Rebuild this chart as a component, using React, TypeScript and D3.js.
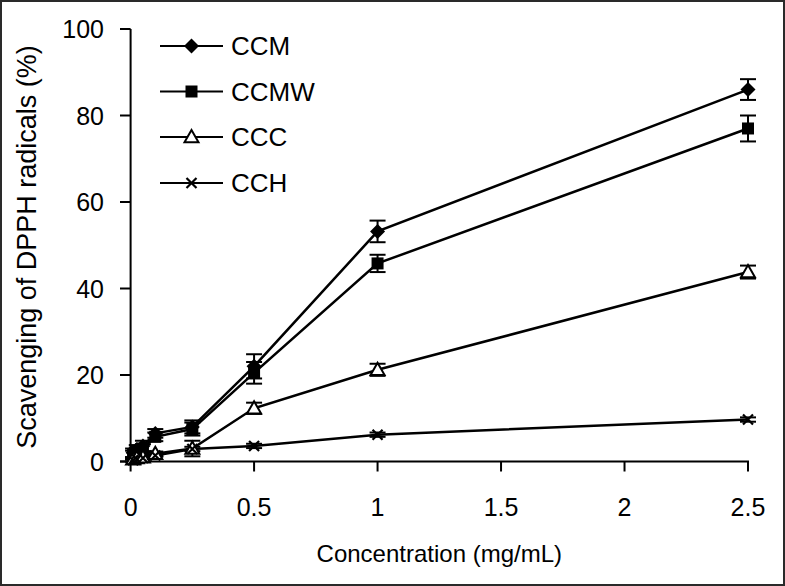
import React from "react";
import * as d3 from "d3";

const concentrations = [0.01, 0.025, 0.05, 0.1, 0.25, 0.5, 1, 2.5];
const ccm = [2.0, 2.8, 3.6, 6.5, 8.0, 22.0, 53.2, 86.0];
const ccmErr = [1, 1, 1.2, 1, 1.5, 2.8, 2.5, 2.4];
const ccmw = [1.5, 2.2, 3.0, 5.7, 7.5, 20.5, 45.8, 77.0];
const ccmwErr = [1, 1, 1, 1, 1.5, 2.5, 2.0, 3.0];
const ccc = [0.5, 0.8, 1.0, 1.8, 3.0, 12.3, 21.2, 43.8];
const cccErr = [0.5, 0.5, 0.5, 0.5, 1.8, 1.3, 1.4, 1.5];
const cch = [0.3, 0.5, 0.8, 1.4, 2.9, 3.6, 6.2, 9.7];
const cchErr = [0.3, 0.3, 0.3, 0.3, 0.5, 0.5, 0.5, 0.5];

const seriesNames = ["CCM", "CCMW", "CCC", "CCH"];
const xTicks = [0, 0.5, 1, 1.5, 2, 2.5];
const yTicks = [0, 20, 40, 60, 80, 100];

const W = 785;
const H = 586;
const FONT = "'Liberation Sans', Arial, Helvetica, sans-serif";

const x = d3.scaleLinear().domain([0, 2.5]).range([130.6, 748]);
const y = d3.scaleLinear().domain([0, 100]).range([461.5, 29]);

type Kind = "diamond" | "square" | "triangle" | "cross";
const kinds: Kind[] = ["diamond", "square", "triangle", "cross"];

function Marker({ kind, cx, cy }: { kind: Kind; cx: number; cy: number }) {
  if (kind === "diamond") {
    const r = 7.5;
    return (
      <path
        d={`M${cx},${cy - r}L${cx + r},${cy}L${cx},${cy + r}L${cx - r},${cy}Z`}
        fill="#000"
      />
    );
  }
  if (kind === "square") {
    const r = 6;
    return <rect x={cx - r} y={cy - r} width={2 * r} height={2 * r} fill="#000" />;
  }
  if (kind === "triangle") {
    const r = 7;
    return (
      <path
        d={`M${cx},${cy - r}L${cx + r},${cy + r * 0.75}L${cx - r},${cy + r * 0.75}Z`}
        fill="#fff"
        stroke="#000"
        strokeWidth={2}
      />
    );
  }
  const r = 5;
  return (
    <path
      d={`M${cx - r},${cy - r}L${cx + r},${cy + r}M${cx - r},${cy + r}L${cx + r},${cy - r}`}
      stroke="#000"
      strokeWidth={2.2}
      fill="none"
    />
  );
}

export default function App() {
  const series = [
    { name: seriesNames[0], vals: ccm, errs: ccmErr, kind: kinds[0] },
    { name: seriesNames[1], vals: ccmw, errs: ccmwErr, kind: kinds[1] },
    { name: seriesNames[2], vals: ccc, errs: cccErr, kind: kinds[2] },
    { name: seriesNames[3], vals: cch, errs: cchErr, kind: kinds[3] },
  ];
  const line = d3
    .line<number>()
    .x((_, i) => x(concentrations[i]))
    .y((d) => y(d));

  const legendY = [46, 91.5, 137, 183];

  return (
    <svg
      width={W}
      height={H}
      style={{ position: "absolute", left: 0, top: 0, background: "#fff" }}
      fontFamily={FONT}
    >
      <rect x={0} y={0} width={W} height={H} fill="#fff" />
      <rect x={1} y={1} width={W - 2} height={H - 2} fill="none" stroke="#2a2a2a" strokeWidth={2} />

      {/* axes */}
      <line x1={x(0)} x2={x(0)} y1={y(100)} y2={y(0) + 1} stroke="#000" strokeWidth={2} />
      <line x1={120} x2={x(2.5) + 1} y1={y(0)} y2={y(0)} stroke="#000" strokeWidth={2} />
      {yTicks.map((t) => (
        <g key={`yt${t}`}>
          <line x1={120} x2={x(0)} y1={y(t)} y2={y(t)} stroke="#000" strokeWidth={2} />
          <text x={104} y={y(t)} textAnchor="end" dominantBaseline="central" fontSize={25} fill="#000">
            {t}
          </text>
        </g>
      ))}
      {xTicks.map((t) => (
        <g key={`xt${t}`}>
          <line x1={x(t)} x2={x(t)} y1={y(0)} y2={y(0) + 10} stroke="#000" strokeWidth={2} />
          <text x={x(t)} y={516} textAnchor="middle" fontSize={25} fill="#000">
            {t}
          </text>
        </g>
      ))}
      <text x={(x(0) + x(2.5)) / 2} y={562} textAnchor="middle" fontSize={24} fill="#000">
        Concentration (mg/mL)
      </text>
      <text
        transform={`translate(36,247) rotate(-90)`}
        textAnchor="middle"
        fontSize={27}
        fill="#000"
      >
        Scavenging of DPPH radicals (%)
      </text>

      {/* lines */}
      {series.map((s) => (
        <path key={`l${s.name}`} d={line(s.vals) || ""} fill="none" stroke="#000" strokeWidth={2.5} />
      ))}
      {/* error bars */}
      {series.map((s) =>
        s.vals.map((v, i) => {
          const cx = x(concentrations[i]);
          const y1 = y(v + s.errs[i]);
          const y2 = y(v - s.errs[i]);
          return (
            <g key={`e${s.name}${i}`} stroke="#000" strokeWidth={2}>
              <line x1={cx} x2={cx} y1={y1} y2={y2} />
              <line x1={cx - 8} x2={cx + 8} y1={y1} y2={y1} />
              <line x1={cx - 8} x2={cx + 8} y1={y2} y2={y2} />
            </g>
          );
        })
      )}
      {/* markers */}
      {series.map((s) =>
        s.vals.map((v, i) => (
          <Marker key={`m${s.name}${i}`} kind={s.kind} cx={x(concentrations[i])} cy={y(v)} />
        ))
      )}

      {/* legend */}
      {series.map((s, i) => (
        <g key={`lg${s.name}`}>
          <line x1={160} x2={223} y1={legendY[i]} y2={legendY[i]} stroke="#000" strokeWidth={2} />
          <Marker kind={s.kind} cx={191.5} cy={legendY[i]} />
          <text x={231} y={legendY[i]} dominantBaseline="central" fontSize={26} fill="#000">
            {s.name}
          </text>
        </g>
      ))}
    </svg>
  );
}
